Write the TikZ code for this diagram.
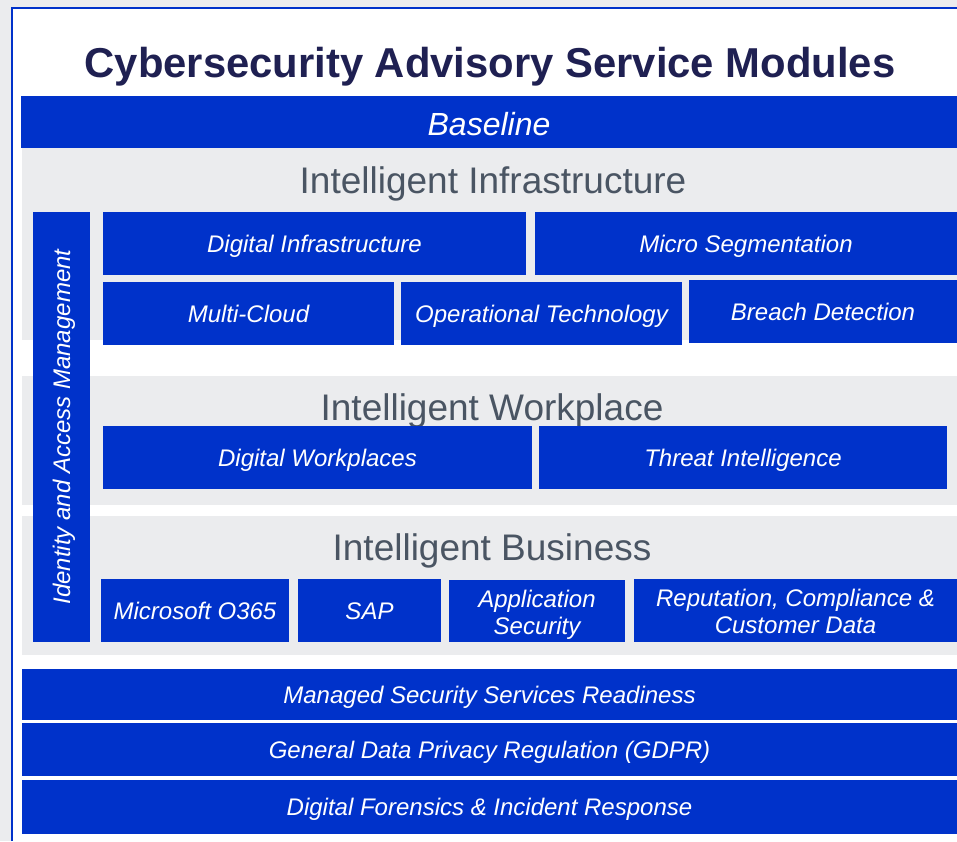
\documentclass[tikz,border=0pt]{standalone}
\usepackage{fontspec}
\setmainfont{Liberation Sans}
\definecolor{mblue}{RGB}{0,50,202}
\definecolor{pgrey}{RGB}{235,236,238}
\definecolor{ttl}{RGB}{31,32,82}
\definecolor{hdg}{RGB}{74,85,99}
\tikzset{
  modbox/.style={fill=mblue, draw=none, inner sep=0pt, outer sep=0pt, text=white,
    font=\fontsize{24}{27}\selectfont\itshape, align=center,
    text height=17pt, text depth=0pt},
  twoline/.style={text height=46pt, text depth=0pt},
  heading/.style={anchor=base, inner sep=0pt, text=hdg, font=\fontsize{37}{40}\selectfont},
}
\begin{document}
\begin{tikzpicture}[x=1pt,y=-1pt]
\useasboundingbox (0,0) rectangle (957,841);
\fill[pgrey] (0,0) rectangle (957,841);
\fill[white] (12,8) rectangle (957,841);
\draw[mblue, line width=2pt] (11.5,841) -- (11.5,7.5) -- (957,7.5);
% panels
\fill[pgrey] (22,148) rectangle (957,340);
\fill[pgrey] (22,376) rectangle (957,505);
\fill[pgrey] (22,516) rectangle (957,655);
% title
\node[anchor=base, inner sep=0pt, text=ttl, font=\fontsize{41.8}{45}\selectfont\bfseries] (title) at (490,77) {Cybersecurity Advisory Service Modules};
% baseline bar
\node[modbox, minimum width=936pt, minimum height=52pt, font=\fontsize{32}{35}\selectfont\itshape, text height=27pt] (base) at (489,122) {Baseline};
% headings
\node[heading] (h1) at (493,193) {Intelligent Infrastructure};
\node[heading] (h2) at (492,420) {Intelligent Workplace};
\node[heading] (h3) at (492,560) {Intelligent Business};
% IAM
\node[modbox, minimum width=430pt, minimum height=57pt, rotate=90] (iam) at (61.5,427) {Identity and Access Management};
% infrastructure
\node[modbox, minimum width=423pt, minimum height=63pt] (di) at (314.5,243.5) {Digital Infrastructure};
\node[modbox, minimum width=422pt, minimum height=63pt] (ms) at (746,243.5) {Micro Segmentation};
\node[modbox, minimum width=291pt, minimum height=63pt] (mc) at (248.5,313.5) {Multi-Cloud};
\node[modbox, minimum width=281pt, minimum height=63pt] (ot) at (541.5,313.5) {Operational Technology};
\node[modbox, minimum width=268pt, minimum height=63pt] (bd) at (823,311.5) {Breach Detection};
% workplace
\node[modbox, minimum width=429pt, minimum height=63pt] (dw) at (317.5,457.5) {Digital Workplaces};
\node[modbox, minimum width=408pt, minimum height=63pt] (ti) at (743,457.5) {Threat Intelligence};
% business
\node[modbox, minimum width=188pt, minimum height=63pt] (mo) at (195,610.5) {Microsoft O365};
\node[modbox, minimum width=143pt, minimum height=63pt] (sap) at (369.5,610.5) {SAP};
\node[modbox, twoline, minimum width=176pt, minimum height=62pt] (as) at (537,611) {Application\\Security};
\node[modbox, twoline, minimum width=323pt, minimum height=63pt] (rc) at (795.5,610.5) {Reputation, Compliance \&\\Customer Data};
% bottom bars
\node[modbox, minimum width=935pt, minimum height=51pt] (mss) at (489.5,694.5) {Managed Security Services Readiness};
\node[modbox, minimum width=935pt, minimum height=53pt] (gdpr) at (489.5,749.5) {General Data Privacy Regulation (GDPR)};
\node[modbox, minimum width=935pt, minimum height=54pt] (dfir) at (489.5,807) {Digital Forensics \& Incident Response};
\end{tikzpicture}
\end{document}
